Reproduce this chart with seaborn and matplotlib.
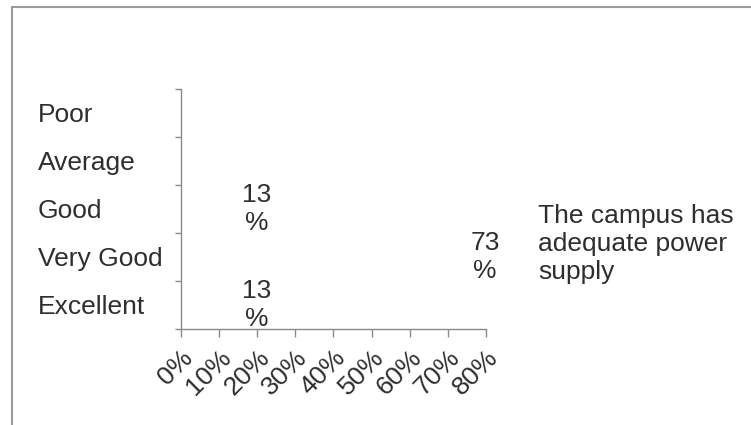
import numpy as np
import pandas as pd
import seaborn as sns
import matplotlib.pyplot as plt
from matplotlib.patches import Patch, Rectangle
from matplotlib.ticker import PercentFormatter

# Data
categories = ["Poor", "Average", "Good", "Very Good", "Excellent"]
shares = [0.0, 0.0, 0.13, 0.73, 0.13]
bar_labels = ["", "", "13\n%", "73\n%", "13\n%"]
series_name = "The campus has\nadequate power\nsupply"
x_ticks = [0, 0.1, 0.2, 0.3, 0.4, 0.5, 0.6, 0.7, 0.8]

df = pd.DataFrame({"Rating": categories, "Share": shares})

sns.set_style("white")
plt.rcParams["font.family"] = ["Liberation Sans", "DejaVu Sans"]
text_col = "#2e2e2e"
axis_col = "#8a8a8a"
fs = 19

fig = plt.figure(figsize=(7.51, 4.25), dpi=100)
ax = fig.add_axes([0.241, 0.226, 0.406, 0.565])

# bars are white (invisible) as in the source
sns.barplot(data=df, x="Share", y="Rating", order=categories, color="white",
            edgecolor="none", width=0.6, ax=ax)
ax.bar_label(ax.containers[0], labels=bar_labels, padding=8, fontsize=fs,
             color=text_col, multialignment="center", linespacing=1.25)

ax.set_xlim(0, 0.8)
ax.set_xticks(x_ticks)
ax.xaxis.set_major_formatter(PercentFormatter(1.0, decimals=0))
ax.set_xlabel("")
ax.set_ylabel("")

ax.set_yticks(np.arange(-0.5, len(categories), 1), minor=True)
ax.tick_params(axis="y", which="major", length=0, pad=103, labelsize=fs, labelcolor=text_col)
ax.tick_params(axis="y", which="minor", length=4, width=1, color=axis_col, direction="out", left=True)
ax.tick_params(axis="x", length=6, width=1, color=axis_col, direction="out", bottom=True,
               labelsize=fs, labelcolor=text_col, pad=6)
for lbl in ax.get_yticklabels():
    lbl.set_ha("left")
for lbl in ax.get_xticklabels():
    lbl.set_rotation(45)
    lbl.set_ha("right")
    lbl.set_rotation_mode("anchor")

for side in ["top", "right"]:
    ax.spines[side].set_visible(False)
for side in ["left", "bottom"]:
    ax.spines[side].set_color(axis_col)
    ax.spines[side].set_linewidth(1)

handle = Patch(facecolor="white", edgecolor="none", label=series_name)
fig.legend(handles=[handle], loc="center left", bbox_to_anchor=(0.674, 0.426),
           frameon=False, fontsize=fs, handlelength=0.7, handletextpad=0.5,
           borderpad=0, borderaxespad=0, labelcolor=text_col, labelspacing=0.2)

# outer frame of the chart area (only top and left edges visible in the picture)
fig.patches.append(Rectangle((12 / 751, -0.2), 1.2, 1.2 - 7 / 425, transform=fig.transFigure,
                             fill=False, edgecolor="#9a9a9a", linewidth=1.5))

fig.savefig("out.png", dpi=100)
